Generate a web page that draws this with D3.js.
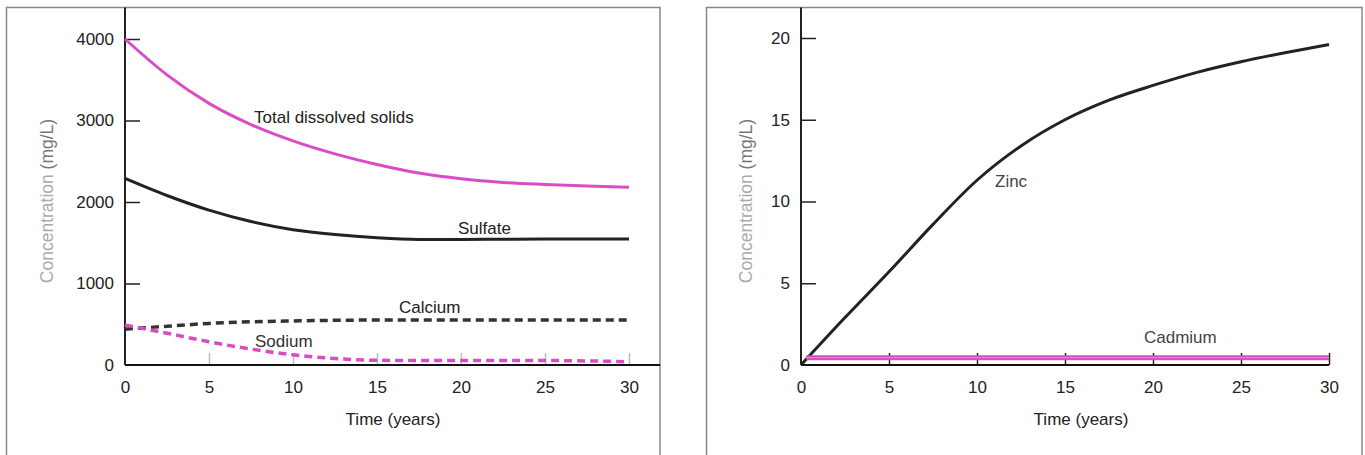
<!DOCTYPE html>
<html>
<head>
<meta charset="utf-8">
<script src="https://cdn.jsdelivr.net/npm/d3@7"></script>
<style>
  body { margin: 0; background: #fff; }
  svg { display: block; font-family: "Liberation Sans", Arial, sans-serif; }
</style>
</head>
<body>
<div id="chart"></div>
<script>
const years = [0, 2.5, 5, 7.5, 10, 12.5, 15, 17.5, 20, 22.5, 25, 27.5, 30];

// left panel, mg/L
const tdsValues = [4000, 3560, 3210, 2950, 2750, 2590, 2460, 2355, 2285, 2240, 2215, 2195, 2180];
const sulfateValues = [2290, 2080, 1900, 1760, 1660, 1600, 1560, 1540, 1540, 1543, 1545, 1545, 1545];
const calciumValues = [440, 475, 510, 530, 540, 548, 552, 552, 552, 552, 552, 552, 552];
const sodiumValues = [490, 390, 285, 195, 125, 80, 58, 55, 55, 55, 55, 50, 40];

// right panel, mg/L
const zincValues = [0, 2.9, 5.7, 8.6, 11.3, 13.4, 15.0, 16.2, 17.1, 17.9, 18.55, 19.1, 19.6];
const cadmiumYears = [0.3, 30];
const cadmiumValues = [0.45, 0.45];

const xTicks = [0, 5, 10, 15, 20, 25, 30];
const leftYTicks = [0, 1000, 2000, 3000, 4000];
const rightYTicks = [0, 5, 10, 15, 20];

const magenta = "#da4cc4";
const dark = "#222";
const fontSize = 17;

var svg = d3.select("#chart").append("svg")
  .attr("width", 1365)
  .attr("height", 455);

function drawPanel(p) {
  var g = svg.append("g");

  // panel frame
  g.append("rect")
    .attr("x", p.box[0]).attr("y", p.box[1])
    .attr("width", p.box[2] - p.box[0]).attr("height", p.box[3] - p.box[1])
    .attr("fill", "none").attr("stroke", "#888").attr("stroke-width", 1.5);

  var x = d3.scaleLinear().domain([0, 30]).range(p.xRange);
  var y = d3.scaleLinear().domain(p.yDomain).range([365, p.yTop]);

  // x axis, ticks pointing up into the plot
  var xAxis = g.append("g")
    .attr("transform", "translate(0,365)")
    .call(d3.axisBottom(x).tickValues(xTicks).tickFormat(d3.format("d"))
      .tickSizeInner(-12).tickSizeOuter(0).tickPadding(16));
  xAxis.select(".domain").remove();
  xAxis.selectAll(".tick line").attr("stroke", p.xTickColor).attr("stroke-width", 1.5);
  xAxis.selectAll(".tick").filter(d => d === 0).select("line").remove();
  xAxis.selectAll("text").attr("font-size", fontSize).attr("fill", dark)
    .attr("font-family", "Liberation Sans, Arial, sans-serif");

  var yAxis = g.append("g")
    .attr("transform", "translate(" + p.xRange[0] + ",0)")
    .call(d3.axisLeft(y).tickValues(p.yTicks).tickFormat(d3.format("d"))
      .tickSizeInner(-15).tickSizeOuter(0).tickPadding(11));
  yAxis.select(".domain").remove();
  yAxis.selectAll(".tick line").attr("stroke", "#222").attr("stroke-width", 1.5);
  yAxis.selectAll(".tick").filter(d => d === 0).select("line").remove();
  yAxis.selectAll("text").attr("font-size", fontSize).attr("fill", dark)
    .attr("font-family", "Liberation Sans, Arial, sans-serif");

  // axis lines
  g.append("line")
    .attr("x1", p.xRange[0]).attr("x2", p.xAxisEnd)
    .attr("y1", 365).attr("y2", 365)
    .attr("stroke", "#111").attr("stroke-width", 2);
  g.append("line")
    .attr("x1", p.xRange[0]).attr("x2", p.xRange[0])
    .attr("y1", p.box[1]).attr("y2", 365)
    .attr("stroke", "#222").attr("stroke-width", 2);

  // axis titles
  var yt = g.append("text")
    .attr("transform", "translate(" + p.yTitleX + ",201) rotate(-90)")
    .attr("text-anchor", "middle")
    .attr("font-size", 17.5);
  yt.append("tspan").attr("fill", "#aaa").text("Concentration ");
  yt.append("tspan").attr("fill", "#777").text("(mg/L)");

  g.append("text")
    .attr("x", (p.xRange[0] + p.xRange[1]) / 2 + 16)
    .attr("y", 425)
    .attr("text-anchor", "middle")
    .attr("font-size", fontSize)
    .attr("fill", dark)
    .text("Time (years)");

  p.series.forEach(function(s) {
    var line = d3.line()
      .x((d, i) => x((s.xs || years)[i]))
      .y(d => y(d))
      .curve(d3.curveMonotoneX);
    g.append("path")
      .datum(s.values)
      .attr("d", line)
      .attr("fill", "none")
      .attr("stroke", s.color)
      .attr("stroke-width", s.width)
      .attr("stroke-dasharray", s.dash || null);
    if (s.inner) {
      g.append("path")
        .datum(s.values)
        .attr("d", line)
        .attr("fill", "none")
        .attr("stroke", s.inner)
        .attr("stroke-width", 1);
    }
  });

  p.labels.forEach(function(l) {
    g.append("text")
      .attr("x", l.x).attr("y", l.y)
      .attr("font-size", fontSize)
      .attr("fill", l.color || dark)
      .text(l.text);
  });

  return g;
}

drawPanel({
  box: [6.5, 7.5, 660, 456],
  xRange: [125, 629],
  xAxisEnd: 660,
  yDomain: [0, 4000],
  yTop: 39,
  yTicks: leftYTicks,
  xTickColor: "#bbb",
  yTitleX: 53,
  series: [
    { values: tdsValues, color: magenta, width: 3 },
    { values: sulfateValues, color: dark, width: 3 },
    { values: calciumValues, color: "#333", width: 3.5, dash: "8,5" },
    { values: sodiumValues, color: magenta, width: 3.5, dash: "8,5" }
  ],
  labels: [
    { text: "Total dissolved solids", x: 254, y: 123 },
    { text: "Sulfate", x: 458, y: 234 },
    { text: "Calcium", x: 399, y: 313 },
    { text: "Sodium", x: 255, y: 347, color: "#333" }
  ]
});

drawPanel({
  box: [706.5, 7.5, 1362, 456],
  xRange: [801, 1329],
  xAxisEnd: 1329,
  yDomain: [0, 20],
  yTop: 38,
  yTicks: rightYTicks,
  xTickColor: "#222",
  yTitleX: 752,
  series: [
    { values: zincValues, color: dark, width: 3 },
    { values: cadmiumValues, xs: cadmiumYears, color: "#d64bbf", width: 5, inner: "#ec8bd8" }
  ],
  labels: [
    { text: "Zinc", x: 995, y: 187, color: "#444" },
    { text: "Cadmium", x: 1144, y: 343, color: "#444" }
  ]
});
</script>
</body>
</html>
